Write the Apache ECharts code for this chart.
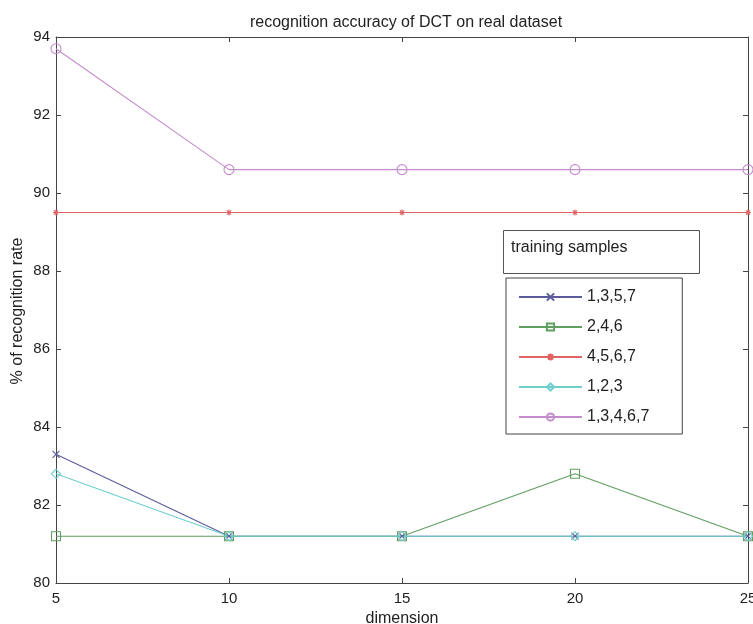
<!DOCTYPE html>
<html><head><meta charset="utf-8">
<script src="https://cdn.jsdelivr.net/npm/echarts@6/dist/echarts.min.js"></script>
<style>html,body{margin:0;padding:0;background:#fff}#c{width:753px;height:624px}</style>
</head><body><div id="c"></div>
<script>
const dims = [5, 10, 15, 20, 25];
const seriesNames = ['1,3,5,7', '2,4,6', '4,5,6,7', '1,2,3', '1,3,4,6,7'];
const s1357 = [83.3, 81.2, 81.2, 81.2, 81.2];
const s246 = [81.2, 81.2, 81.2, 82.8, 81.2];
const s4567 = [89.5, 89.5, 89.5, 89.5, 89.5];
const s123 = [82.8, 81.2, 81.2, 81.2, 81.2];
const s13467 = [93.7, 90.6, 90.6, 90.6, 90.6];
const allValues = [s1357, s246, s4567, s123, s13467];
const yAxisName = '% of recognition rate';
const colors = ['#5b5b9c', '#5f9f5f', '#e06464', '#6fcfcf', '#c48ccc'];
const symbols = [
  'path://M0,0L10,10M10,0L0,10',
  'rect',
  'path://M5,0L5,10M0,5L10,5M1.5,1.5L8.5,8.5M8.5,1.5L1.5,8.5',
  'diamond',
  'circle'
];
const symSizes = [7, 9, 6, 9, 10];

const chart = echarts.init(document.getElementById('c'));
const series = seriesNames.map((n, i) => ({
  name: n,
  type: 'line',
  data: dims.map((d, j) => [d, allValues[i][j]]),
  symbol: symbols[i],
  symbolSize: symSizes[i],
  showAllSymbol: true,
  lineStyle: { color: colors[i], width: 1.1 },
  itemStyle: { color: 'rgba(255,255,255,0)', borderColor: colors[i], borderWidth: 1.1 },
  emphasis: { disabled: true },
  z: 2
}));

const font = 'Liberation Sans, Arial';
const axisCommon = {
  axisLine: { show: true, lineStyle: { color: '#444', width: 1 } },
  axisTick: { show: true, inside: true, length: 5, lineStyle: { color: '#444' } },
  splitLine: { show: false }
};

chart.setOption({
  animation: false,
  title: {
    text: 'recognition accuracy of DCT on real dataset',
    left: 401, top: 10, textAlign: 'center',
    textStyle: { fontFamily: font, fontSize: 16, fontWeight: 'normal', color: '#222' }
  },
  grid: { left: 56, right: 5, top: 37, bottom: 41, containLabel: false, outerBoundsMode: 'none' },
  xAxis: [
    Object.assign({
      type: 'value', min: 5, max: 25, interval: 5, position: 'bottom',
      name: 'dimension', nameLocation: 'middle', nameGap: 26,
      nameTextStyle: { fontFamily: font, fontSize: 16, color: '#222' },
      axisLabel: { fontFamily: font, fontSize: 15, color: '#222', margin: 8 }
    }, axisCommon),
    Object.assign({
      type: 'value', min: 5, max: 25, interval: 5, position: 'top',
      axisLabel: { show: false }
    }, axisCommon)
  ],
  yAxis: [
    Object.assign({
      type: 'value', min: 80, max: 94, interval: 2, position: 'left',
      axisLabel: { fontFamily: font, fontSize: 15, color: '#222', margin: 6 }
    }, axisCommon),
    Object.assign({
      type: 'value', min: 80, max: 94, interval: 2, position: 'right',
      axisLabel: { show: false }
    }, axisCommon)
  ],
  legend: {
    orient: 'vertical',
    left: 506, top: 278,
    itemWidth: 63, itemHeight: 9, itemGap: 14,
    padding: [11, 33, 9, 12],
    borderColor: '#444', borderWidth: 1,
    backgroundColor: '#fff',
    textStyle: { fontFamily: font, fontSize: 16, color: '#222' },
    data: seriesNames
  },
  graphic: [
    {
      type: 'text', x: 18, y: 311, rotation: Math.PI / 2, z: 11,
      style: { text: yAxisName, font: '16px Liberation Sans, Arial', fill: '#222', align: 'center', verticalAlign: 'middle' }
    },
    {
      type: 'rect', left: 503, top: 230, z: 10,
      shape: { width: 196, height: 43 },
      style: { fill: '#fff', stroke: '#555', lineWidth: 1 }
    },
    {
      type: 'text', left: 511, top: 240, z: 11,
      style: { text: 'training samples', font: '16px Liberation Sans, Arial', fill: '#222' }
    }
  ],
  series: series
});
</script></body></html>
